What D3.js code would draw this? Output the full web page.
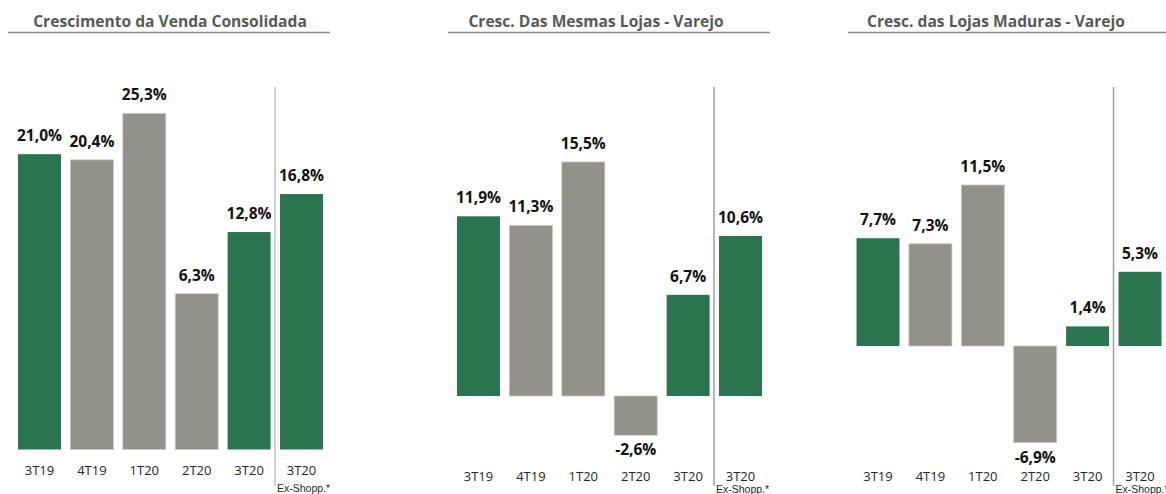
<!DOCTYPE html>
<html>
<head>
<meta charset="utf-8">
<script src="https://cdn.jsdelivr.net/npm/d3@7"></script>
<style>
  html, body { margin: 0; padding: 0; background: #fff; }
  svg { display: block; }
</style>
</head>
<body>
<script>
// --- data ---
const categories = ["3T19", "4T19", "1T20", "2T20", "3T20", "3T20"];
const subLabels = ["", "", "", "", "", "Ex-Shopp.*"];
const titles = [
  "Crescimento da Venda Consolidada",
  "Cresc. Das Mesmas Lojas - Varejo",
  "Cresc. das Lojas Maduras - Varejo"
];
const vendaConsolidada = [21.0, 20.4, 25.3, 6.3, 12.8, 16.8];
const mesmasLojas = [11.9, 11.3, 15.5, -2.6, 6.7, 10.6];
const lojasMaduras = [7.7, 7.3, 11.5, -6.9, 1.4, 5.3];

const W = 1166, H = 494;
const green = "#2a7550", grey = "#92918a";

// layout of each panel (Excel-like: first chart axis crosses at its minimum)
const panels = [
  { values: vendaConsolidada, x0: 13.3, domain: [-10.1, 30], range: [449.5, 68.7], base: -10.1,
    catY: 475, subY: 491.5, line: [8, 330], titleX: 170 },
  { values: mesmasLojas, x0: 452.3, domain: [-5, 20], range: [471.5, 94], base: 0,
    catY: 481, subY: 493, line: [448, 770], titleX: 596 },
  { values: lojasMaduras, x0: 851.8, domain: [-10, 15], range: [486, 136], base: 0,
    catY: 481, subY: 493, line: [848, 1166], titleX: 996 }
];

const fmt = v => d3.format(".1f")(v).replace(".", ",").replace("\u2212", "-") + "%";

const svg = d3.select("body").append("svg")
  .attr("width", W).attr("height", H)
  .style("font-family", "'Open Sans', sans-serif");

panels.forEach((p, pi) => {
  const g = svg.append("g");
  const idx = d3.range(categories.length);

  const x = d3.scaleBand()
    .domain(idx)
    .range([p.x0, p.x0 + 52.4 * categories.length])
    .paddingInner(0.18)
    .paddingOuter(0.09);

  const y = d3.scaleLinear().domain(p.domain).range(p.range);

  // title + underline
  g.append("text")
    .attr("x", p.titleX).attr("y", 27)
    .attr("text-anchor", "middle")
    .attr("font-size", 15.6)
    .attr("font-weight", 700)
    .attr("fill", "#595959")
    .text(titles[pi]);

  g.append("line")
    .attr("x1", p.line[0]).attr("x2", p.line[1])
    .attr("y1", 32.5).attr("y2", 32.5)
    .attr("stroke", "#8c8c8c")
    .attr("stroke-width", 1.5);

  // bars
  g.selectAll("rect")
    .data(p.values)
    .join("rect")
      .attr("x", (d, i) => x(i))
      .attr("width", x.bandwidth())
      .attr("y", d => Math.min(y(d), y(p.base)))
      .attr("height", d => Math.abs(y(d) - y(p.base)))
      .attr("fill", (d, i) => categories[i].startsWith("3T") ? green : grey)
      .attr("stroke", (d, i) => categories[i].startsWith("3T") ? "none" : "#c9c9c4")
      .attr("stroke-width", 0.8);

  // value labels
  g.selectAll("text.val")
    .data(p.values)
    .join("text")
      .attr("class", "val")
      .attr("x", (d, i) => x(i) + x.bandwidth() / 2)
      .attr("y", d => d >= 0 ? y(d) - 13 : y(d) + 20)
      .attr("text-anchor", "middle")
      .attr("font-size", 15.5)
      .attr("font-weight", 700)
      .attr("fill", "#111")
      .text(fmt);

  // divider before the Ex-Shopp. bar
  const last = categories.length - 1;
  const divX = (x(last - 1) + x.bandwidth() + x(last)) / 2 - 0.3;
  g.append("line")
    .attr("x1", divX).attr("x2", divX)
    .attr("y1", 87).attr("y2", 486)
    .attr("stroke", pi === 0 ? "#c0c0c0" : "#a0a0a0")
    .attr("stroke-width", 1.5);

  // category labels
  g.selectAll("text.cat")
    .data(categories)
    .join("text")
      .attr("class", "cat")
      .attr("x", (d, i) => x(i) + x.bandwidth() / 2)
      .attr("y", p.catY)
      .attr("text-anchor", "middle")
      .attr("font-size", 13)
      .attr("fill", "#262626")
      .text(d => d);

  g.selectAll("text.sub")
    .data(subLabels.filter(s => s))
    .join("text")
      .attr("class", "sub")
      .attr("x", divX + 2)
      .attr("y", p.subY)
      .attr("font-family", "'Liberation Sans', Arial, sans-serif")
      .attr("font-size", 10.5)
      .attr("fill", "#262626")
      .text(d => d);
});
</script>
</body>
</html>
